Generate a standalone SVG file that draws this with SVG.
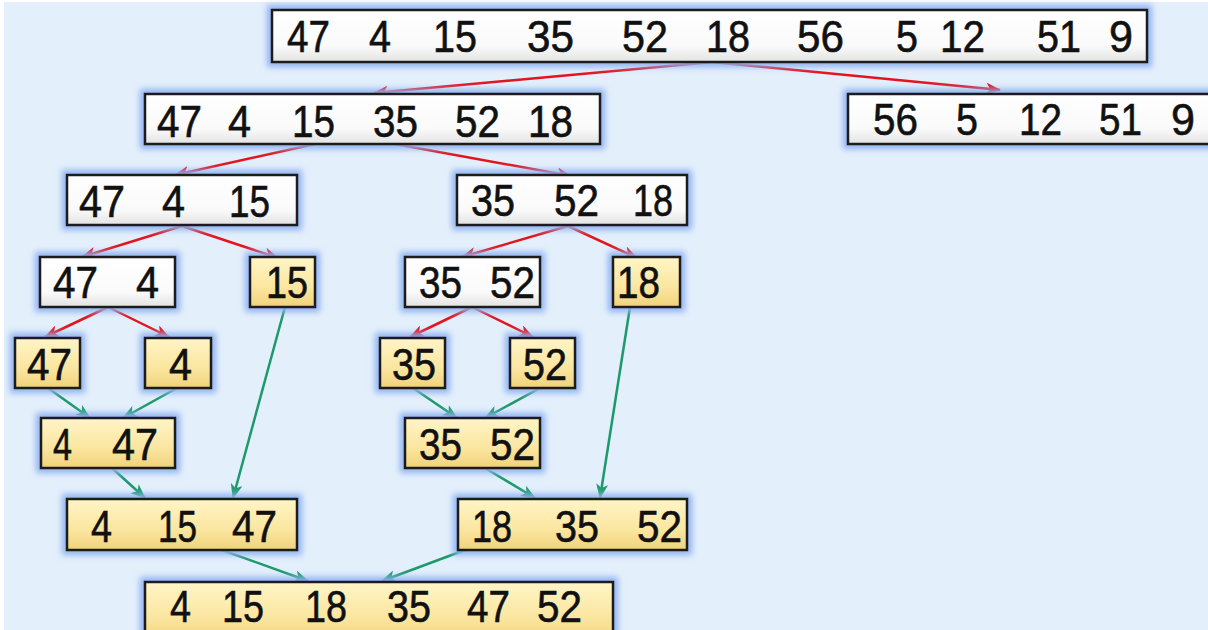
<svg xmlns="http://www.w3.org/2000/svg" width="1208" height="630" viewBox="0 0 1208 630">
<defs>
<style>
.bg{fill:#e3effb}
.glow{fill:#8fb2f2;filter:url(#blur)}
.w{fill:url(#gw);stroke:#1c1c1c;stroke-width:2.5}
.y{fill:url(#gy);stroke:#1c1c1c;stroke-width:2.5}
.t{font-family:"Liberation Sans",Arial,sans-serif;font-size:44px;fill:#111;stroke:#111;stroke-width:0.6}
.r{stroke:#e3141c;stroke-width:2.5;fill:none;marker-end:url(#ar)}
.g{stroke:#1d9a6c;stroke-width:2.5;fill:none;marker-end:url(#ag)}
</style>
<filter id="blur" x="-20%" y="-50%" width="140%" height="200%"><feGaussianBlur stdDeviation="3"/></filter>
<linearGradient id="gw" x1="0" y1="0" x2="0" y2="1"><stop offset="0" stop-color="#ffffff"/><stop offset="0.7" stop-color="#fafafa"/><stop offset="1" stop-color="#e2e2e2"/></linearGradient>
<linearGradient id="gy" x1="0" y1="0" x2="0" y2="1"><stop offset="0" stop-color="#fff5c6"/><stop offset="0.6" stop-color="#fbe6a0"/><stop offset="1" stop-color="#f1d27a"/></linearGradient>
<marker id="ar" markerWidth="15" markerHeight="12" refX="14" refY="6" orient="auto" markerUnits="userSpaceOnUse"><path d="M0,0 L15,6 L0,12 L4,6 Z" fill="#e3141c"/></marker>
<marker id="ag" markerWidth="15" markerHeight="12" refX="14" refY="6" orient="auto" markerUnits="userSpaceOnUse"><path d="M0,0 L15,6 L0,12 L4,6 Z" fill="#1d9a6c"/></marker>
</defs>
<rect class="bg" x="4" y="2" width="1204" height="628"/>

<g id="connectors">
<line class="r" x1="712" y1="62" x2="374" y2="93"/>
<line class="r" x1="712" y1="62" x2="1000" y2="90"/>
<line class="r" x1="315" y1="144" x2="175" y2="175"/>
<line class="r" x1="395" y1="144" x2="571" y2="176"/>
<line class="r" x1="182" y1="226" x2="82" y2="257"/>
<line class="r" x1="182" y1="226" x2="278" y2="258"/>
<line class="r" x1="568" y1="226" x2="462" y2="257"/>
<line class="r" x1="568" y1="226" x2="637" y2="258"/>
<line class="r" x1="108" y1="307" x2="45" y2="337"/>
<line class="r" x1="108" y1="307" x2="169" y2="337"/>
<line class="r" x1="472" y1="307" x2="410" y2="337"/>
<line class="r" x1="472" y1="307" x2="533" y2="337"/>
<line class="g" x1="48" y1="388" x2="90" y2="418"/>
<line class="g" x1="177" y1="388" x2="123" y2="418"/>
<line class="g" x1="413" y1="388" x2="457" y2="418"/>
<line class="g" x1="540" y1="388" x2="485" y2="418"/>
<line class="g" x1="285" y1="307" x2="233" y2="498"/>
<line class="g" x1="630" y1="307" x2="600" y2="498"/>
<line class="g" x1="112" y1="468" x2="145" y2="498"/>
<line class="g" x1="485" y1="468" x2="535" y2="498"/>
<line class="g" x1="222" y1="550" x2="308" y2="581"/>
<line class="g" x1="465" y1="550" x2="382" y2="581"/>
</g>

<g id="n-all">
<rect class="glow" x="267" y="5" width="885" height="62"/>
<rect class="w" x="272" y="10" width="875" height="52"/>
<text class="t" x="287" y="52" textLength="43" lengthAdjust="spacingAndGlyphs">47</text>
<text class="t" x="369" y="52" textLength="22" lengthAdjust="spacingAndGlyphs">4</text>
<text class="t" x="433" y="52" textLength="44" lengthAdjust="spacingAndGlyphs">15</text>
<text class="t" x="527" y="52" textLength="47" lengthAdjust="spacingAndGlyphs">35</text>
<text class="t" x="622" y="52" textLength="46" lengthAdjust="spacingAndGlyphs">52</text>
<text class="t" x="706" y="52" textLength="44" lengthAdjust="spacingAndGlyphs">18</text>
<text class="t" x="797" y="52" textLength="47" lengthAdjust="spacingAndGlyphs">56</text>
<text class="t" x="896" y="52" textLength="22" lengthAdjust="spacingAndGlyphs">5</text>
<text class="t" x="940" y="52" textLength="45" lengthAdjust="spacingAndGlyphs">12</text>
<text class="t" x="1037" y="52" textLength="44" lengthAdjust="spacingAndGlyphs">51</text>
<text class="t" x="1109" y="52" textLength="24" lengthAdjust="spacingAndGlyphs">9</text>
</g>

<g id="n-left6">
<rect class="glow" x="140" y="89" width="465" height="60"/>
<rect class="w" x="145" y="94" width="455" height="50"/>
<text class="t" x="157" y="137" textLength="45" lengthAdjust="spacingAndGlyphs">47</text>
<text class="t" x="228" y="137" textLength="23" lengthAdjust="spacingAndGlyphs">4</text>
<text class="t" x="292" y="137" textLength="43" lengthAdjust="spacingAndGlyphs">15</text>
<text class="t" x="373" y="137" textLength="45" lengthAdjust="spacingAndGlyphs">35</text>
<text class="t" x="455" y="137" textLength="45" lengthAdjust="spacingAndGlyphs">52</text>
<text class="t" x="528" y="137" textLength="45" lengthAdjust="spacingAndGlyphs">18</text>
</g>

<g id="n-right5">
<rect class="glow" x="843" y="89" width="380" height="60"/>
<rect class="w" x="848" y="94" width="370" height="50"/>
<text class="t" x="873" y="135" textLength="45" lengthAdjust="spacingAndGlyphs">56</text>
<text class="t" x="956" y="135" textLength="22" lengthAdjust="spacingAndGlyphs">5</text>
<text class="t" x="1019" y="135" textLength="43" lengthAdjust="spacingAndGlyphs">12</text>
<text class="t" x="1099" y="135" textLength="43" lengthAdjust="spacingAndGlyphs">51</text>
<text class="t" x="1171" y="135" textLength="24" lengthAdjust="spacingAndGlyphs">9</text>
</g>

<g id="n-47-4-15">
<rect class="glow" x="62" y="170" width="240" height="60"/>
<rect class="w" x="67" y="175" width="230" height="50"/>
<text class="t" x="79" y="217" textLength="46" lengthAdjust="spacingAndGlyphs">47</text>
<text class="t" x="162" y="217" textLength="23" lengthAdjust="spacingAndGlyphs">4</text>
<text class="t" x="229" y="217" textLength="41" lengthAdjust="spacingAndGlyphs">15</text>
</g>

<g id="n-35-52-18">
<rect class="glow" x="452" y="170" width="240" height="60"/>
<rect class="w" x="457" y="175" width="230" height="50"/>
<text class="t" x="471" y="216" textLength="44" lengthAdjust="spacingAndGlyphs">35</text>
<text class="t" x="554" y="216" textLength="45" lengthAdjust="spacingAndGlyphs">52</text>
<text class="t" x="633" y="216" textLength="40" lengthAdjust="spacingAndGlyphs">18</text>
</g>

<g id="n-47-4">
<rect class="glow" x="35" y="252" width="145" height="60"/>
<rect class="w" x="40" y="257" width="135" height="50"/>
<text class="t" x="53" y="298" textLength="45" lengthAdjust="spacingAndGlyphs">47</text>
<text class="t" x="136" y="298" textLength="23" lengthAdjust="spacingAndGlyphs">4</text>
</g>

<g id="n-15">
<rect class="glow" x="245" y="252" width="75" height="60"/>
<rect class="y" x="250" y="257" width="65" height="50"/>
<text class="t" x="266" y="298" textLength="42" lengthAdjust="spacingAndGlyphs">15</text>
</g>

<g id="n-35-52">
<rect class="glow" x="400" y="252" width="145" height="60"/>
<rect class="w" x="405" y="257" width="135" height="50"/>
<text class="t" x="419" y="298" textLength="43" lengthAdjust="spacingAndGlyphs">35</text>
<text class="t" x="490" y="298" textLength="45" lengthAdjust="spacingAndGlyphs">52</text>
</g>

<g id="n-18">
<rect class="glow" x="608" y="252" width="77" height="60"/>
<rect class="y" x="613" y="257" width="67" height="50"/>
<text class="t" x="617" y="298" textLength="43" lengthAdjust="spacingAndGlyphs">18</text>
</g>

<g id="n-47">
<rect class="glow" x="10" y="333" width="75" height="60"/>
<rect class="y" x="15" y="338" width="65" height="50"/>
<text class="t" x="27" y="380" textLength="45" lengthAdjust="spacingAndGlyphs">47</text>
</g>

<g id="n-4">
<rect class="glow" x="140" y="333" width="76" height="60"/>
<rect class="y" x="145" y="338" width="66" height="50"/>
<text class="t" x="169" y="380" textLength="23" lengthAdjust="spacingAndGlyphs">4</text>
</g>

<g id="n-35">
<rect class="glow" x="375" y="333" width="75" height="60"/>
<rect class="y" x="380" y="338" width="65" height="50"/>
<text class="t" x="392" y="380" textLength="44" lengthAdjust="spacingAndGlyphs">35</text>
</g>

<g id="n-52">
<rect class="glow" x="505" y="333" width="75" height="60"/>
<rect class="y" x="510" y="338" width="65" height="50"/>
<text class="t" x="523" y="380" textLength="44" lengthAdjust="spacingAndGlyphs">52</text>
</g>

<g id="n-4-47">
<rect class="glow" x="36" y="413" width="144" height="60"/>
<rect class="y" x="41" y="418" width="134" height="50"/>
<text class="t" x="53" y="460" textLength="19" lengthAdjust="spacingAndGlyphs">4</text>
<text class="t" x="112" y="460" textLength="46" lengthAdjust="spacingAndGlyphs">47</text>
</g>

<g id="n-35-52-s">
<rect class="glow" x="400" y="413" width="145" height="60"/>
<rect class="y" x="405" y="418" width="135" height="50"/>
<text class="t" x="419" y="460" textLength="43" lengthAdjust="spacingAndGlyphs">35</text>
<text class="t" x="490" y="460" textLength="45" lengthAdjust="spacingAndGlyphs">52</text>
</g>

<g id="n-4-15-47">
<rect class="glow" x="62" y="494" width="240" height="61"/>
<rect class="y" x="67" y="499" width="230" height="51"/>
<text class="t" x="91" y="542" textLength="21" lengthAdjust="spacingAndGlyphs">4</text>
<text class="t" x="158" y="542" textLength="39" lengthAdjust="spacingAndGlyphs">15</text>
<text class="t" x="232" y="542" textLength="45" lengthAdjust="spacingAndGlyphs">47</text>
</g>

<g id="n-18-35-52">
<rect class="glow" x="453" y="494" width="239" height="61"/>
<rect class="y" x="458" y="499" width="229" height="51"/>
<text class="t" x="472" y="542" textLength="40" lengthAdjust="spacingAndGlyphs">18</text>
<text class="t" x="555" y="542" textLength="44" lengthAdjust="spacingAndGlyphs">35</text>
<text class="t" x="637" y="542" textLength="45" lengthAdjust="spacingAndGlyphs">52</text>
</g>

<g id="n-final">
<rect class="glow" x="140" y="577" width="478" height="70"/>
<rect class="y" x="145" y="582" width="468" height="60"/>
<text class="t" x="170" y="622" textLength="21" lengthAdjust="spacingAndGlyphs">4</text>
<text class="t" x="222" y="622" textLength="42" lengthAdjust="spacingAndGlyphs">15</text>
<text class="t" x="305" y="622" textLength="42" lengthAdjust="spacingAndGlyphs">18</text>
<text class="t" x="387" y="622" textLength="44" lengthAdjust="spacingAndGlyphs">35</text>
<text class="t" x="467" y="622" textLength="43" lengthAdjust="spacingAndGlyphs">47</text>
<text class="t" x="537" y="622" textLength="45" lengthAdjust="spacingAndGlyphs">52</text>
</g>
</svg>
